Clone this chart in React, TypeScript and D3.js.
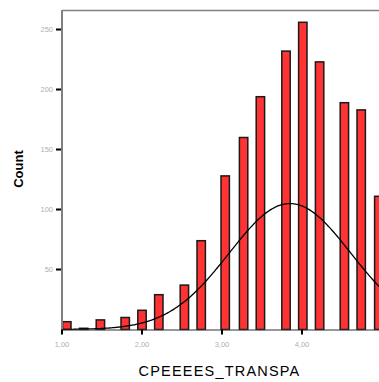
import React from "react";
import * as d3 from "d3";

const binCenters = [1.06, 1.27, 1.48, 1.79, 2.0, 2.21, 2.53, 2.74, 3.04, 3.27, 3.48, 3.8, 4.01, 4.22, 4.53, 4.74, 4.96];
const binCounts = [6.5, 1, 8, 10, 16, 29, 37, 74, 128, 160, 194, 232, 256, 223, 189, 183, 111];
const yTicks = [50, 100, 150, 200, 250];
const xTicks = [1, 2, 3, 4];
const xTickLabels = ["1,00", "2,00", "3,00", "4,00"];
const curveMean = 3.85;
const curveSd = 0.76;
const curvePeak = 105;

const W = 379;
const H = 382;

export default function App() {
  const left = 62;
  const top = 10;
  const bottom = 329.5;
  const x = d3.scaleLinear().domain([1, 5]).range([left, left + 320]);
  const y = d3.scaleLinear().domain([0, 250]).range([bottom, bottom - 300]);
  const barW = 8.4;

  const curvePts = d3.range(1, 5.2, 0.02).map((v) => [v, curvePeak * Math.exp(-((v - curveMean) ** 2) / (2 * curveSd * curveSd))] as [number, number]);
  const line = d3.line<[number, number]>().x((d) => x(d[0])).y((d) => y(d[1])).curve(d3.curveBasis);

  return (
    <svg width={W} height={H} style={{ position: "absolute", left: 0, top: 0, background: "#fff" }} fontFamily="Arial, 'Liberation Sans', sans-serif">
      <defs>
        <clipPath id="plot">
          <rect x={left} y={top} width={W - left} height={bottom - top + 1} />
        </clipPath>
      </defs>
      <g clipPath="url(#plot)">
        {binCenters.map((c, i) => (
          <rect key={i} x={x(c) - barW / 2} y={y(binCounts[i])} width={barW} height={bottom - y(binCounts[i])} fill="#ff3333" stroke="#1a1a1a" strokeWidth={1.5} />
        ))}
        <path d={line(curvePts) || ""} fill="none" stroke="#000" strokeWidth={1.3} />
      </g>
      <line x1={left} x2={W} y1={top + 0.5} y2={top + 0.5} stroke="#808080" strokeWidth={1.5} />
      <line x1={left} x2={left} y1={top} y2={bottom + 1} stroke="#808080" strokeWidth={2} />
      <line x1={left} x2={W} y1={bottom + 0.5} y2={bottom + 0.5} stroke="#333" strokeWidth={1.2} />
      {yTicks.map((t) => (
        <g key={t}>
          <line x1={56} x2={61} y1={y(t)} y2={y(t)} stroke="#000" strokeWidth={2} />
          <text x={53} y={y(t) + 2.5} textAnchor="end" fontSize={7.5} fill="#b0b0b0">{t}</text>
        </g>
      ))}
      {xTicks.map((t, i) => (
        <g key={t}>
          <line x1={x(t)} x2={x(t)} y1={bottom} y2={bottom + 5} stroke="#000" strokeWidth={2} />
          <text x={x(t)} y={347} textAnchor="middle" fontSize={7.5} fill="#b0b0b0">{xTickLabels[i]}</text>
        </g>
      ))}
      <text transform="translate(23,169) rotate(-90)" textAnchor="middle" fontSize={13} fontWeight="bold" fill="#000">Count</text>
      <text x={219.5} y={376} textAnchor="middle" fontSize={14.5} letterSpacing={1.2} fill="#000">CPEEEES_TRANSPA</text>
    </svg>
  );
}
